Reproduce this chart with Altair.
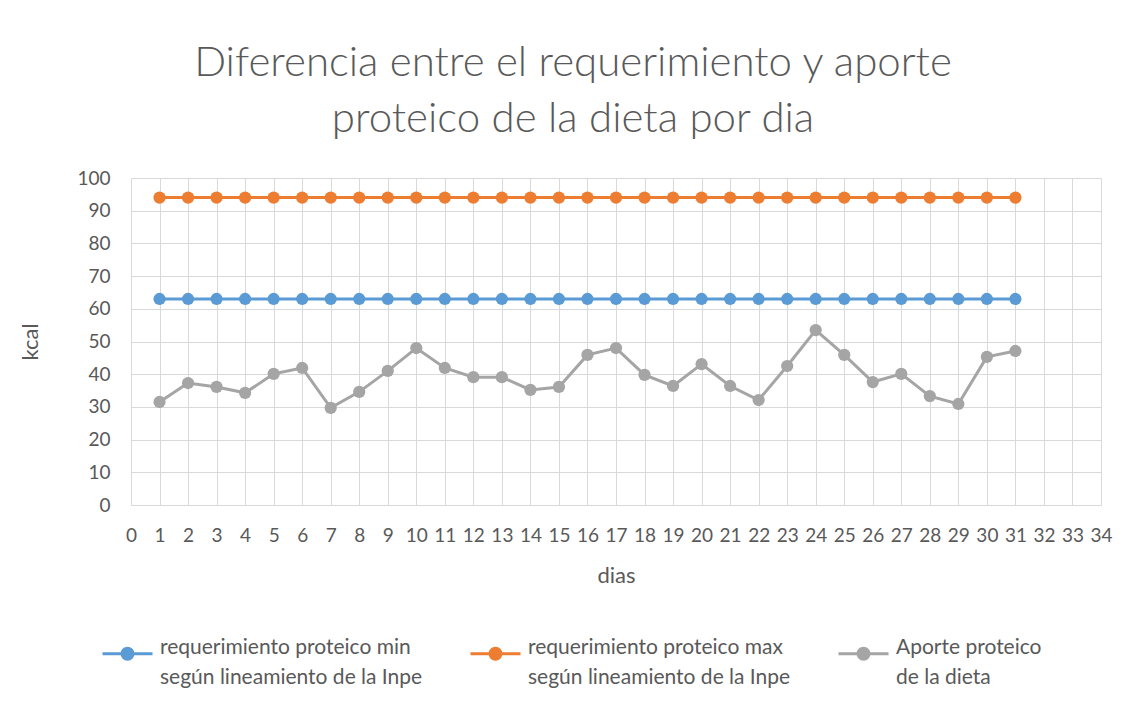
import altair as alt
import pandas as pd

dias = list(range(1, 32))
req_min = [63] * 31
req_max = [94] * 31
aporte = [31.5, 37.3, 36.1, 34.3, 40.1, 41.9, 29.7, 34.6, 41.0, 48.0,
          41.9, 39.1, 39.1, 35.2, 36.1, 45.9, 48.0, 39.8, 36.4, 43.1,
          36.4, 32.1, 42.5, 53.5, 45.9, 37.6, 40.1, 33.3, 30.9, 45.3, 47.1]

series_names = [
    "requerimiento proteico min|según lineamiento de la Inpe",
    "requerimiento proteico max|según lineamiento de la Inpe",
    "Aporte proteico|de la dieta",
]
series_colors = ["#5B9BD5", "#ED7D31", "#A5A5A5"]

rows = []
for name, vals in zip(series_names, [req_min, req_max, aporte]):
    for d, v in zip(dias, vals):
        rows.append({"dia": d, "valor": v, "serie": name})
df = pd.DataFrame(rows)

FONT = "Lato"
TXT = "#595959"

sym_path = "M-1,0L1,0M-0.22,0A0.22,0.22,0,1,1,0.22,0A0.22,0.22,0,1,1,-0.22,0Z"

color = alt.Color(
    "serie:N",
    scale=alt.Scale(domain=series_names, range=series_colors),
    legend=alt.Legend(
        title=None,
        orient="none",
        legendX=-30,
        legendY=449,
        direction="horizontal",
        columns=3,
        columnPadding=41,
        symbolType=sym_path,
        symbolSize=2500,
        symbolStrokeWidth=3,
        labelExpr="split(datum.label, '|')",
        labelFont=FONT,
        labelFontSize=21,
        labelColor=TXT,
        labelLimit=400,
        labelOffset=6,
        labelBaseline="alphabetic",
    ),
)

x = alt.X(
    "dia:Q",
    title="dias",
    scale=alt.Scale(domain=[0, 34], nice=False),
    axis=alt.Axis(values=list(range(0, 35)), tickCount=35, ticks=False,
                  labelFont=FONT, labelFontSize=19, labelColor=TXT,
                  titleFont=FONT, titleFontSize=22, titleColor=TXT,
                  titleFontWeight="normal", labelPadding=21, titlePadding=20,
                  domainColor="#D9D9D9", gridColor="#D9D9D9", labelFlush=False),
)
y = alt.Y(
    "valor:Q",
    title="kcal",
    scale=alt.Scale(domain=[0, 100], nice=False),
    axis=alt.Axis(values=list(range(0, 101, 10)), ticks=False, domain=False,
                  labelFont=FONT, labelFontSize=19, labelColor=TXT,
                  titleFont=FONT, titleFontSize=22, titleColor=TXT,
                  titleFontWeight="normal", labelPadding=21, titlePadding=34,
                  gridColor="#D9D9D9"),
)

base = alt.Chart(df).encode(x=x, y=y, color=color)
lines = base.mark_line(strokeWidth=3)
points = base.mark_circle(size=150, opacity=1)

chart = alt.layer(lines, points).properties(
    width=970,
    height=327,
    padding={"left": 123, "top": 170, "right": 20, "bottom": 195},
    autosize=alt.AutoSizeParams(type="none"),
    title=alt.TitleParams(
        text=["Diferencia entre el requerimiento y aporte", "proteico de la dieta por dia"],
        font=FONT, fontSize=42, fontWeight=300, color=TXT,
        anchor="middle", dx=-43, offset=28, lineHeight=56,
    ),
).configure(
    background="white",
    view={"stroke": "transparent"},
    style={"guide-label": {"lineHeight": 30}},
)

chart.save("out.html", embed_options={"renderer": "svg", "actions": False})
